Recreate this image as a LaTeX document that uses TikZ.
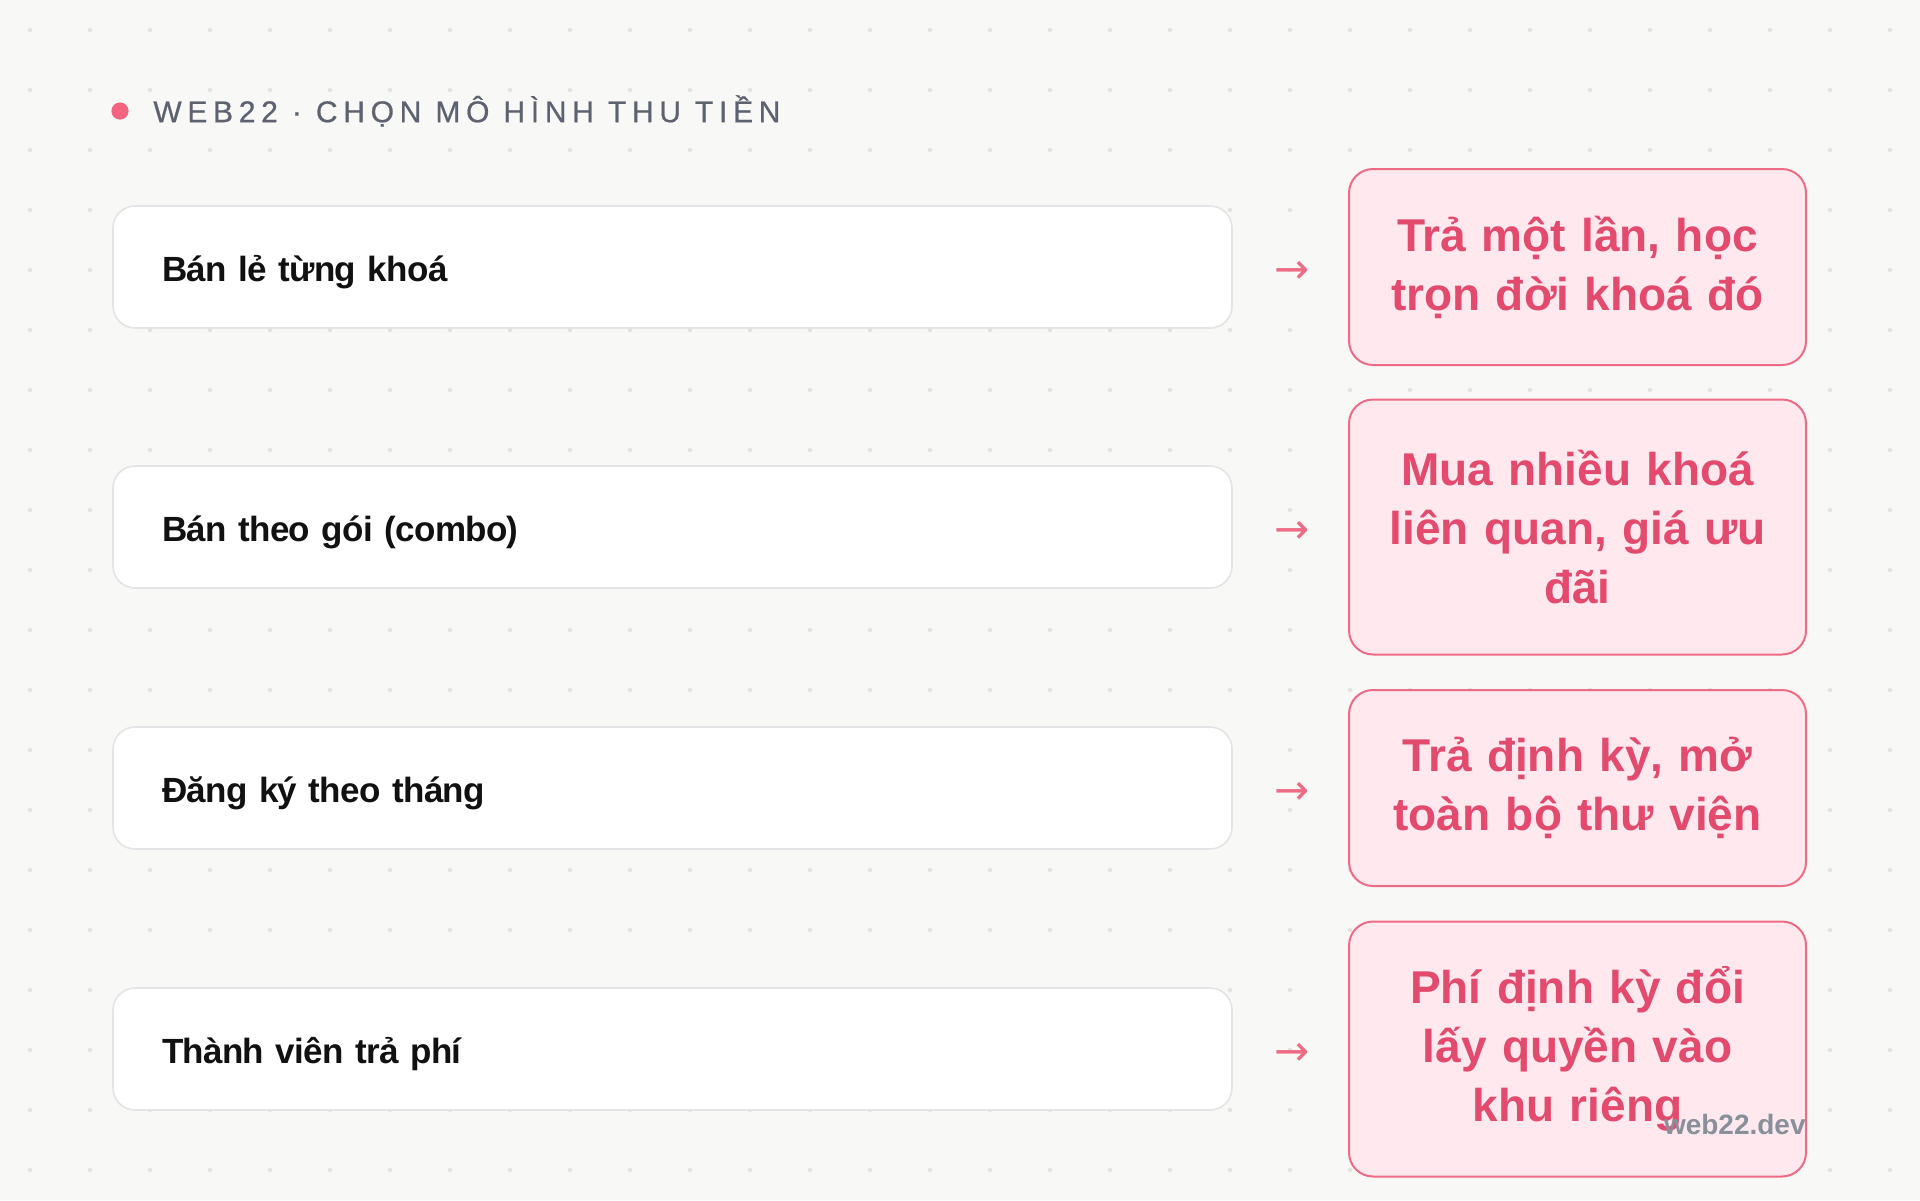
\documentclass[tikz,border=0pt]{standalone}
\usepackage{fontspec}
\setmainfont{Liberation Sans}
\newfontfamily\arrowfont{DejaVu Sans}
\newfontfamily\titlefont[LetterSpace=19, FakeBold=0.6]{Liberation Sans}
\newfontfamily\planfont[LetterSpace=-2]{Liberation Sans}
\usepackage{xcolor}
\usetikzlibrary{arrows.meta, positioning}
\definecolor{paper}{HTML}{F8F8F6}
\definecolor{dotgrey}{HTML}{E2E2E0}
\definecolor{titleink}{HTML}{5C6270}
\definecolor{titledot}{HTML}{F26480}
\definecolor{planline}{HTML}{E4E4E7}
\definecolor{planink}{HTML}{111111}
\definecolor{gistline}{HTML}{EE6B86}
\definecolor{gistfill}{HTML}{FFE9EE}
\definecolor{gistink}{HTML}{E24A6E}
\definecolor{markink}{HTML}{8A909A}

\begin{document}
\begin{tikzpicture}[x=0.5pt, y=-0.5pt,
		plan/.style={draw=planline, fill=white, line width=0.8pt, rounded corners=11pt,
			minimum width=559.5pt, minimum height=61pt, text width=510.5pt, inner xsep=24.5pt,
			text height=17pt, text depth=2.3pt,
			align=left, text=planink, font=\planfont\bfseries\fontsize{17.5}{21}\selectfont},
		gist/.style={draw=gistline, fill=gistfill, line width=1pt, rounded corners=12pt,
			minimum width=228.5pt, text width=210pt, align=center, text=gistink,
			font=\bfseries\fontsize{23}{29.5}\selectfont},
		pointer/.style={inner sep=0pt, text=gistline, font=\arrowfont\fontsize{21}{22}\selectfont}]
			\fill[paper] (0, 0) rectangle (1920, 1200);
			% dotted grid behind the cards
			\foreach \gx in {0,...,31}
				\foreach \gy in {0,...,19}
					\fill[dotgrey] (30+60*\gx, 30+60*\gy) circle[radius=1.1pt];
			\fill[titledot] (120, 111) circle[radius=4.3pt];
			\node[anchor=west, inner sep=0pt, text=titleink, font=\titlefont\fontsize{15}{18}\selectfont] (title) at (153, 111) {WEB22 · CHỌN MÔ HÌNH THU TIỀN};
			\foreach \y/\plan/\gist/\h [count=\i] in {
				267/{Bán lẻ từng khoá}/{Trả một lần, học\\trọn đời khoá đó}/98,
				527/{Bán theo gói (combo)}/{Mua nhiều khoá\\liên quan, giá ưu\\đãi}/127.5,
				788/{Đăng ký theo tháng}/{Trả định kỳ, mở\\toàn bộ thư viện}/98,
				1049/{Thành viên trả phí}/{Phí định kỳ đổi\\lấy quyền vào\\khu riêng}/127.5}
			{
				\node[plan] (plan\i) at (672.5, \y) {\plan};
				\node[pointer] (arrow\i) at (1292, \y+5) {→};
				\node[gist, minimum height=\h pt] (gist\i) at (1577.5, \y) {\gist};
			}
			\node[anchor=south east, inner sep=0pt, text=markink, font=\bfseries\fontsize{14}{16}\selectfont] (mark) at (1806, 1135) {web22.dev};
		\end{tikzpicture}
\end{document}
